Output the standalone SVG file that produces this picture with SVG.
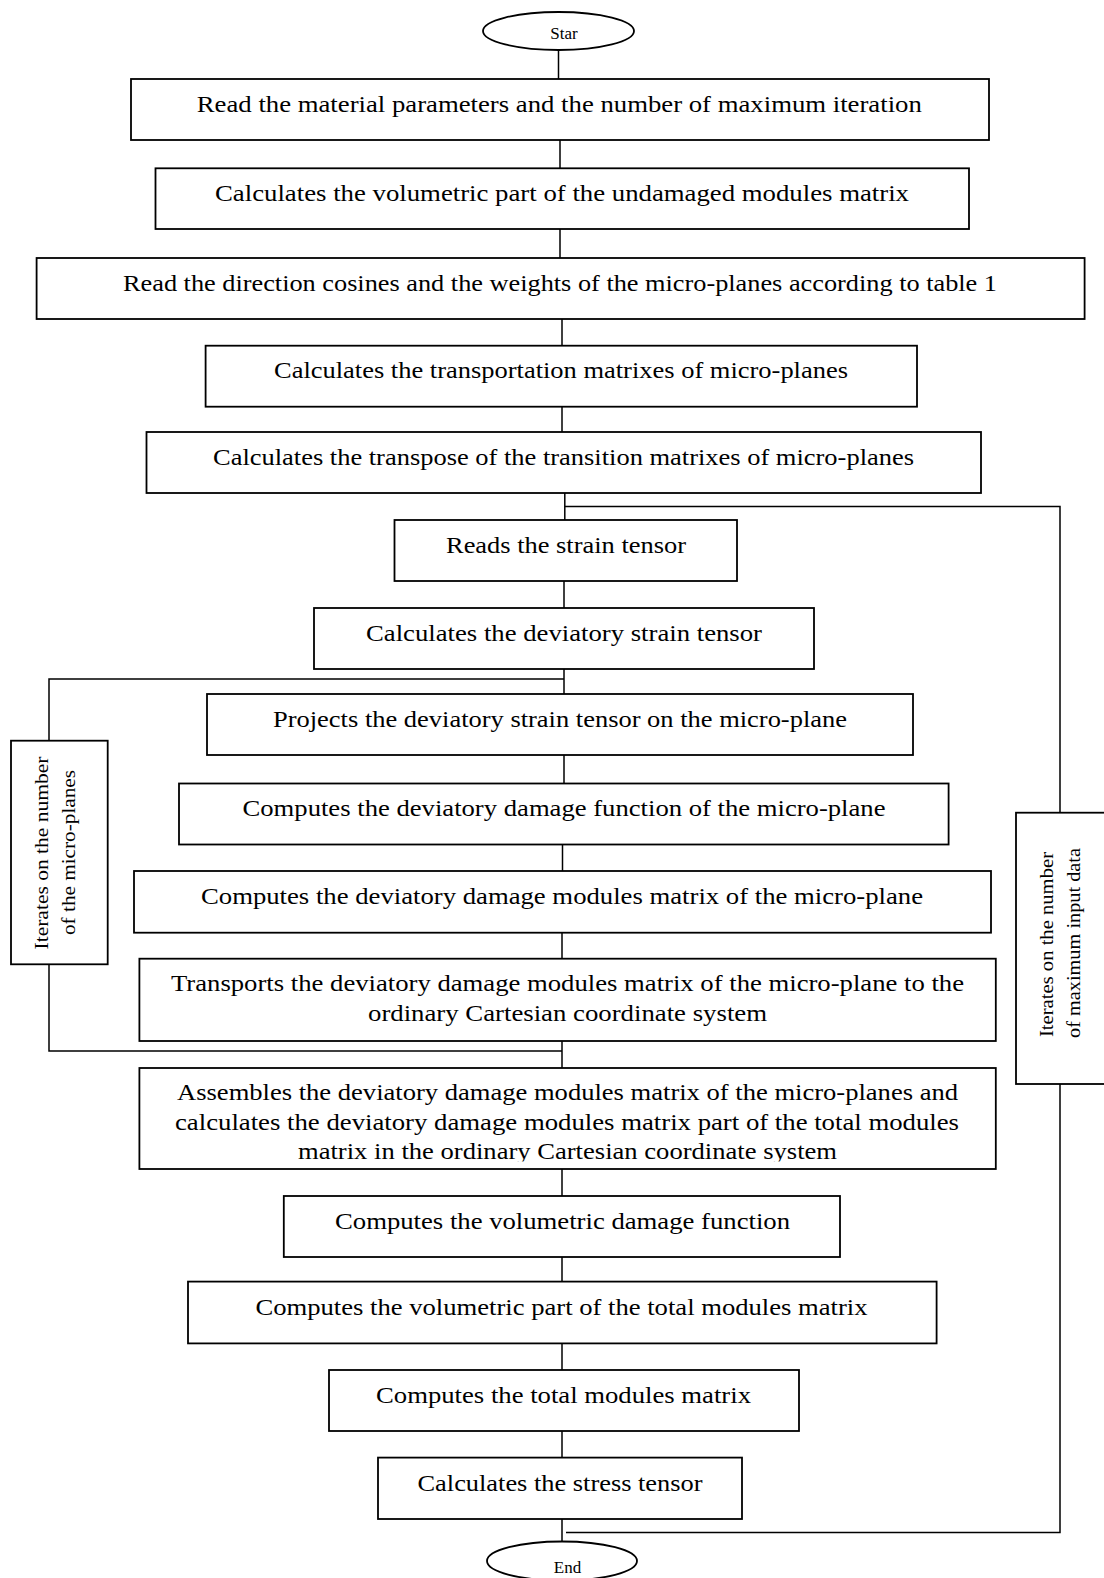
<svg xmlns="http://www.w3.org/2000/svg" width="1104" height="1578" viewBox="0 0 1104 1578">
<style>
.box{fill:#fff;stroke:#000;stroke-width:1.8}
.ln{fill:none;stroke:#000;stroke-width:1.5}
.t{font-family:"Liberation Serif","Times New Roman",serif;font-size:24px;fill:#000;text-anchor:middle}
.s{font-family:"Liberation Serif","Times New Roman",serif;font-size:17px;fill:#000;text-anchor:middle}
.r{font-family:"Liberation Serif","Times New Roman",serif;font-size:19px;fill:#000;text-anchor:middle}
</style>
<defs>
<clipPath id="clip12"><rect x="130" y="1060" width="880" height="101.5"/></clipPath>
</defs>
<rect width="1104" height="1578" fill="#fff"/>
<g id="connectors">
<line class="ln" x1="558.5" y1="50" x2="558.5" y2="79"/>
<line class="ln" x1="560" y1="140" x2="560" y2="168.3"/>
<line class="ln" x1="560" y1="229" x2="560" y2="258"/>
<line class="ln" x1="562" y1="319" x2="562" y2="345.7"/>
<line class="ln" x1="562" y1="406.7" x2="562" y2="432"/>
<line class="ln" x1="564.8" y1="493" x2="564.8" y2="520"/>
<polyline class="ln" points="564.8,506.4 1060,506.4 1060,812.7"/>
<line class="ln" x1="564" y1="581" x2="564" y2="608"/>
<line class="ln" x1="564" y1="669" x2="564" y2="694"/>
<polyline class="ln" points="564,679 49,679 49,740.7"/>
<line class="ln" x1="564" y1="755" x2="564" y2="783.5"/>
<line class="ln" x1="562.5" y1="844.5" x2="562.5" y2="871"/>
<line class="ln" x1="562" y1="932.7" x2="562" y2="958.7"/>
<line class="ln" x1="562" y1="1041" x2="562" y2="1068"/>
<polyline class="ln" points="49,964.3 49,1051 562,1051"/>
<line class="ln" x1="562" y1="1169" x2="562" y2="1196"/>
<line class="ln" x1="562" y1="1257" x2="562" y2="1281.6"/>
<line class="ln" x1="562" y1="1343.4" x2="562" y2="1370"/>
<line class="ln" x1="562" y1="1431" x2="562" y2="1457.6"/>
<line class="ln" x1="562" y1="1519" x2="562" y2="1541.5"/>
<polyline class="ln" points="1060,1084 1060,1532.5 566,1532.5"/>
</g>
<g id="start">
<ellipse class="box" cx="558.5" cy="31" rx="75.5" ry="19"/>
<text class="s" x="564" y="38.5">Star</text>
</g>
<g id="n1">
<rect class="box" x="131" y="79" width="858" height="61"/>
<text class="t" x="559.3" y="112" textLength="725" lengthAdjust="spacingAndGlyphs">Read the material parameters and the number of maximum iteration</text>
</g>
<g id="n2">
<rect class="box" x="155.5" y="168.3" width="813.5" height="60.7"/>
<text class="t" x="562" y="200.5" textLength="694" lengthAdjust="spacingAndGlyphs">Calculates the volumetric part of the undamaged modules matrix</text>
</g>
<g id="n3">
<rect class="box" x="36.6" y="258" width="1048" height="61"/>
<text class="t" x="560" y="290.5" textLength="874" lengthAdjust="spacingAndGlyphs">Read the direction cosines and the weights of the micro-planes according to table 1</text>
</g>
<g id="n4">
<rect class="box" x="205.6" y="345.7" width="711.4" height="61"/>
<text class="t" x="561" y="378" textLength="574" lengthAdjust="spacingAndGlyphs">Calculates the transportation matrixes of micro-planes</text>
</g>
<g id="n5">
<rect class="box" x="146.5" y="432" width="834.5" height="61"/>
<text class="t" x="563.5" y="465" textLength="701" lengthAdjust="spacingAndGlyphs">Calculates the transpose of the transition matrixes of micro-planes</text>
</g>
<g id="n6">
<rect class="box" x="394.5" y="520" width="342.5" height="61"/>
<text class="t" x="566" y="553" textLength="240" lengthAdjust="spacingAndGlyphs">Reads the strain tensor</text>
</g>
<g id="n7">
<rect class="box" x="314" y="608" width="500" height="61"/>
<text class="t" x="564" y="641" textLength="396" lengthAdjust="spacingAndGlyphs">Calculates the deviatory strain tensor</text>
</g>
<g id="n8">
<rect class="box" x="207" y="694" width="706" height="61"/>
<text class="t" x="560" y="727" textLength="574" lengthAdjust="spacingAndGlyphs">Projects the deviatory strain tensor on the micro-plane</text>
</g>
<g id="n9">
<rect class="box" x="179" y="783.5" width="769.6" height="61"/>
<text class="t" x="564" y="816" textLength="643" lengthAdjust="spacingAndGlyphs">Computes the deviatory damage function of the micro-plane</text>
</g>
<g id="n10">
<rect class="box" x="134" y="871" width="857" height="61.7"/>
<text class="t" x="562" y="904" textLength="722" lengthAdjust="spacingAndGlyphs">Computes the deviatory damage modules matrix of the micro-plane</text>
</g>
<g id="n11">
<rect class="box" x="139.4" y="958.7" width="856.4" height="82.3"/>
<text class="t" x="567.5" y="991" textLength="793" lengthAdjust="spacingAndGlyphs">Transports the deviatory damage modules matrix of the micro-plane to the</text>
<text class="t" x="567.5" y="1020.5" textLength="399" lengthAdjust="spacingAndGlyphs">ordinary Cartesian coordinate system</text>
</g>
<g id="n12">
<rect class="box" x="139.4" y="1068" width="856.4" height="101"/>
<text class="t" x="567.5" y="1100" textLength="781" lengthAdjust="spacingAndGlyphs">Assembles the deviatory damage modules matrix of the micro-planes and</text>
<text class="t" x="567" y="1129.5" textLength="784" lengthAdjust="spacingAndGlyphs">calculates the deviatory damage modules matrix part of the total modules</text>
<text class="t" x="567.5" y="1159" textLength="539" lengthAdjust="spacingAndGlyphs" clip-path="url(#clip12)">matrix in the ordinary Cartesian coordinate system</text>
</g>
<g id="n13">
<rect class="box" x="283.8" y="1196" width="556.2" height="61"/>
<text class="t" x="562.5" y="1229" textLength="455" lengthAdjust="spacingAndGlyphs">Computes the volumetric damage function</text>
</g>
<g id="n14">
<rect class="box" x="188" y="1281.6" width="748.6" height="61.8"/>
<text class="t" x="561.5" y="1315" textLength="612" lengthAdjust="spacingAndGlyphs">Computes the volumetric part of the total modules matrix</text>
</g>
<g id="n15">
<rect class="box" x="329" y="1370" width="470" height="61"/>
<text class="t" x="563.5" y="1403" textLength="375" lengthAdjust="spacingAndGlyphs">Computes the total modules matrix</text>
</g>
<g id="n16">
<rect class="box" x="378" y="1457.6" width="364" height="61.4"/>
<text class="t" x="560" y="1491" textLength="285" lengthAdjust="spacingAndGlyphs">Calculates the stress tensor</text>
</g>
<g id="end">
<ellipse class="box" cx="562" cy="1561" rx="75" ry="19.5"/>
<text class="s" x="567.5" y="1573">End</text>
</g>
<g id="loop-micro-planes">
<rect class="box" x="11" y="740.7" width="96.7" height="223.6"/>
<text class="r" transform="translate(48.3,853) rotate(-90)" textLength="193" lengthAdjust="spacingAndGlyphs">Iterates on the number</text>
<text class="r" transform="translate(74.5,852.5) rotate(-90)" textLength="165" lengthAdjust="spacingAndGlyphs">of the micro-planes</text>
</g>
<g id="loop-input-data">
<rect class="box" x="1016" y="812.7" width="100" height="271.3"/>
<text class="r" transform="translate(1052.7,944.5) rotate(-90)" textLength="185" lengthAdjust="spacingAndGlyphs">Iterates on the number</text>
<text class="r" transform="translate(1080,943) rotate(-90)" textLength="190" lengthAdjust="spacingAndGlyphs">of maximum input data</text>
</g>
</svg>
